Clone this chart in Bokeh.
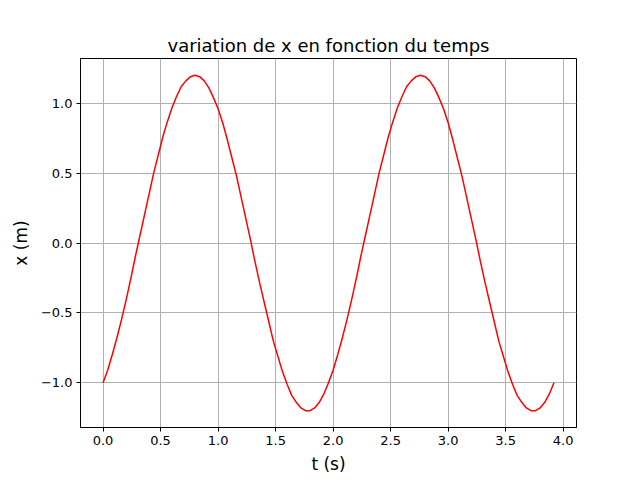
from bokeh.plotting import figure
from bokeh.models import Range1d, FixedTicker, CustomJSTickFormatter
from bokeh.embed import file_html
from bokeh.resources import INLINE

# time samples (s)
t = [0.00, 0.04, 0.08, 0.12, 0.16, 0.20, 0.24, 0.28, 0.32, 0.36,
     0.40, 0.44, 0.48, 0.52, 0.56, 0.60, 0.64, 0.68, 0.72, 0.76,
     0.80, 0.84, 0.88, 0.92, 0.96, 1.00, 1.04, 1.08, 1.12, 1.16,
     1.20, 1.24, 1.28, 1.32, 1.36, 1.40, 1.44, 1.48, 1.52, 1.56,
     1.60, 1.64, 1.68, 1.72, 1.76, 1.80, 1.84, 1.88, 1.92, 1.96,
     2.00, 2.04, 2.08, 2.12, 2.16, 2.20, 2.24, 2.28, 2.32, 2.36,
     2.40, 2.44, 2.48, 2.52, 2.56, 2.60, 2.64, 2.68, 2.72, 2.76,
     2.80, 2.84, 2.88, 2.92, 2.96, 3.00, 3.04, 3.08, 3.12, 3.16,
     3.20, 3.24, 3.28, 3.32, 3.36, 3.40, 3.44, 3.48, 3.52, 3.56,
     3.60, 3.64, 3.68, 3.72, 3.76, 3.80, 3.84, 3.88, 3.92]

# position x (m)
x = [-1.00, -0.91, -0.80, -0.68, -0.55, -0.41, -0.26, -0.10, 0.05, 0.20,
     0.35, 0.50, 0.63, 0.76, 0.87, 0.97, 1.05, 1.12, 1.16, 1.19,
     1.20, 1.19, 1.16, 1.11, 1.04, 0.96, 0.86, 0.74, 0.61, 0.48,
     0.33, 0.18, 0.03, -0.13, -0.28, -0.42, -0.56, -0.70, -0.81, -0.92,
     -1.01, -1.09, -1.14, -1.18, -1.20, -1.20, -1.18, -1.14, -1.08, -1.00,
     -0.91, -0.80, -0.68, -0.55, -0.41, -0.26, -0.10, 0.05, 0.20, 0.35,
     0.50, 0.63, 0.76, 0.87, 0.97, 1.05, 1.12, 1.16, 1.19, 1.20,
     1.19, 1.16, 1.11, 1.04, 0.96, 0.86, 0.74, 0.61, 0.48, 0.33,
     0.18, 0.03, -0.13, -0.28, -0.42, -0.56, -0.70, -0.81, -0.92, -1.01,
     -1.09, -1.14, -1.18, -1.20, -1.20, -1.18, -1.14, -1.08, -1.00]

x_ticks = [0.0, 0.5, 1.0, 1.5, 2.0, 2.5, 3.0, 3.5, 4.0]
y_ticks = [-1.0, -0.5, 0.0, 0.5, 1.0]

title_text = "variation de x en fonction du temps"
x_label = "t (s)"
y_label = "x (m)"

FONT = "DejaVu Sans"

p = figure(width=624, height=478, output_backend="svg", toolbar_location=None,
           x_range=Range1d(-0.196, 4.116), y_range=Range1d(-1.32, 1.32),
           min_border_left=80, min_border_right=48, min_border_top=58,
           min_border_bottom=51, title=title_text)

p.title.align = "center"
p.title.text_font = FONT
p.title.text_font_size = "18px"
p.title.text_font_style = "normal"
p.title.text_color = "black"
p.title.offset = 0
p.title.standoff = 6

p.line(t, x, line_color="red", line_width=1.5)

p.xaxis.ticker = FixedTicker(ticks=x_ticks)
p.yaxis.ticker = FixedTicker(ticks=y_ticks)
fmt = CustomJSTickFormatter(code="return (tick < 0 ? '\\u2212' : '') + Math.abs(tick).toFixed(1);")
p.xaxis.formatter = fmt
p.yaxis.formatter = fmt

for ax in (p.xaxis, p.yaxis):
    ax.major_label_text_font = FONT
    ax.major_label_text_font_size = "13px"
    ax.major_label_text_color = "black"
    ax.axis_label_text_font = FONT
    ax.axis_label_text_font_size = "17px"
    ax.axis_label_text_font_style = "normal"
    ax.axis_label_text_color = "black"
    ax.major_tick_in = 0
    ax.major_tick_out = 4
    ax.minor_tick_line_color = None
    ax.axis_line_color = "black"
    ax.major_tick_line_color = "black"
    ax.major_label_standoff = 4

p.xaxis.axis_label = x_label
p.yaxis.axis_label = y_label
p.xaxis.axis_label_standoff = 6
p.yaxis.axis_label_standoff = 7

p.grid.grid_line_color = "#b0b0b0"
p.grid.grid_line_width = 1
p.outline_line_color = "black"
p.outline_line_alpha = 1
p.outline_line_width = 1
p.background_fill_color = "white"
p.border_fill_color = "white"

open("out.html", "w").write(file_html(p, INLINE))
